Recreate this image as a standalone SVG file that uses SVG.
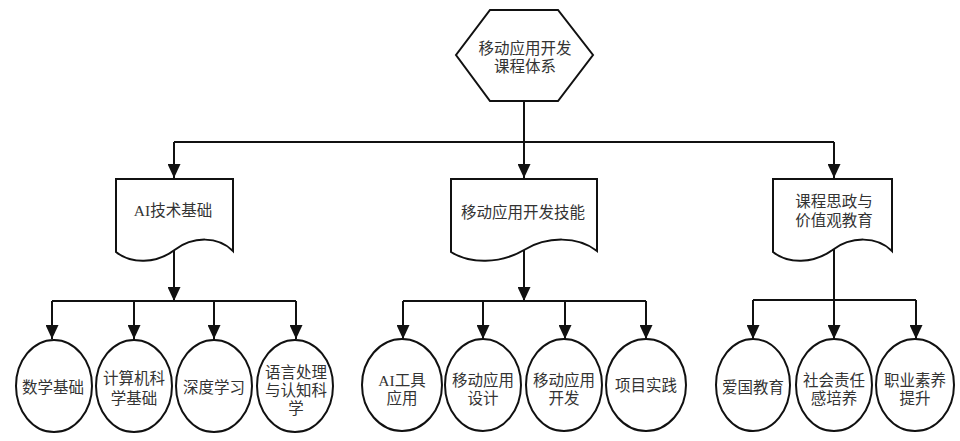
<svg xmlns="http://www.w3.org/2000/svg" width="960" height="441" viewBox="0 0 960 441">
<style>
.shape{fill:#fff;stroke:#111;stroke-width:2}
.edge{fill:none;stroke:#111;stroke-width:2}
.t{font-family:"Liberation Serif","Noto Sans CJK SC",serif;font-size:15.5px;fill:#333;text-anchor:middle}
</style>
<defs>
<marker id="arr" viewBox="0 0 14 13" refX="14" refY="6.5" markerWidth="14" markerHeight="13" orient="auto" markerUnits="userSpaceOnUse">
<path d="M0,0 L14,6.5 L0,13 z" fill="#111"/>
</marker>
</defs>
<rect width="960" height="441" fill="#fff"/>
<g id="connectors">
<path class="edge" d="M524,101 V178" marker-end="url(#arr)"/>
<path class="edge" d="M174,142 H834"/>
<path class="edge" d="M174,142 V178" marker-end="url(#arr)"/>
<path class="edge" d="M834,142 V178" marker-end="url(#arr)"/>
<path class="edge" d="M174,250 V301" marker-end="url(#arr)"/>
<path class="edge" d="M52,301 H296"/>
<path class="edge" d="M52,301 V339" marker-end="url(#arr)"/>
<path class="edge" d="M134,301 V339" marker-end="url(#arr)"/>
<path class="edge" d="M214,301 V339" marker-end="url(#arr)"/>
<path class="edge" d="M296,301 V339" marker-end="url(#arr)"/>
<path class="edge" d="M524,250 V301" marker-end="url(#arr)"/>
<path class="edge" d="M403,301 H646"/>
<path class="edge" d="M403,301 V339" marker-end="url(#arr)"/>
<path class="edge" d="M483,301 V339" marker-end="url(#arr)"/>
<path class="edge" d="M565,301 V339" marker-end="url(#arr)"/>
<path class="edge" d="M646,301 V339" marker-end="url(#arr)"/>
<path class="edge" d="M834,244 V339" marker-end="url(#arr)"/>
<path class="edge" d="M753,300 H916"/>
<path class="edge" d="M753,300 V339" marker-end="url(#arr)"/>
<path class="edge" d="M916,300 V339" marker-end="url(#arr)"/>
</g>
<g id="root">
<polygon class="shape" points="490,10 558,10 593,55 558,101 490,101 456,55"/>
<text class="t" x="525" y="53.5">移动应用开发</text>
<text class="t" x="525" y="71.5">课程体系</text>
</g>
<g id="ai-basics">
<path class="shape" d="M116,179 H233 V251 C218,236 193,236 174.5,250 C156,264 131,264 116,252 Z"/>
<text class="t" x="173" y="215.5">AI技术基础</text>
</g>
<g id="mobile-skills">
<path class="shape" d="M451,179 H597 V251 C578,236 547,236 524,250 C500,264 470,264 451,252 Z"/>
<text class="t" x="523" y="217.5">移动应用开发技能</text>
</g>
<g id="ideology">
<path class="shape" d="M773,179 H892 V251 C877,236 851,236 832.5,250 C813,264 788,264 773,252 Z"/>
<text class="t" x="834" y="206.5">课程思政与</text>
<text class="t" x="834" y="225.5">价值观教育</text>
</g>
<g id="math">
<ellipse class="shape" cx="54" cy="386" rx="38" ry="46"/>
<text class="t" x="53" y="392.5">数学基础</text>
</g>
<g id="cs">
<ellipse class="shape" cx="134" cy="386" rx="38" ry="46"/>
<text class="t" x="134" y="383.5">计算机科</text>
<text class="t" x="134" y="403.5">学基础</text>
</g>
<g id="dl">
<ellipse class="shape" cx="214" cy="386" rx="38" ry="46"/>
<text class="t" x="214" y="392.5">深度学习</text>
</g>
<g id="nlp">
<ellipse class="shape" cx="295" cy="386" rx="38" ry="46"/>
<text class="t" x="296" y="377.5">语言处理</text>
<text class="t" x="296" y="395.5">与认知科</text>
<text class="t" x="296" y="413.5">学</text>
</g>
<g id="ai-tools">
<ellipse class="shape" cx="402" cy="385" rx="40" ry="46"/>
<text class="t" x="402" y="385.5">AI工具</text>
<text class="t" x="402" y="403.5">应用</text>
</g>
<g id="mobile-design">
<ellipse class="shape" cx="483" cy="385" rx="38" ry="46"/>
<text class="t" x="483" y="385.5">移动应用</text>
<text class="t" x="483" y="403.5">设计</text>
</g>
<g id="mobile-dev">
<ellipse class="shape" cx="564" cy="385" rx="38" ry="46"/>
<text class="t" x="564" y="385.5">移动应用</text>
<text class="t" x="564" y="403.5">开发</text>
</g>
<g id="project">
<ellipse class="shape" cx="646" cy="385" rx="40" ry="46"/>
<text class="t" x="646" y="390.5">项目实践</text>
</g>
<g id="patriotism">
<ellipse class="shape" cx="753" cy="385" rx="37" ry="46"/>
<text class="t" x="753" y="392.5">爱国教育</text>
</g>
<g id="responsibility">
<ellipse class="shape" cx="834" cy="385" rx="38" ry="46"/>
<text class="t" x="834" y="385.5">社会责任</text>
<text class="t" x="834" y="403.5">感培养</text>
</g>
<g id="professional">
<ellipse class="shape" cx="915" cy="385" rx="39" ry="46"/>
<text class="t" x="915" y="385.5">职业素养</text>
<text class="t" x="915" y="403.5">提升</text>
</g>
</svg>
